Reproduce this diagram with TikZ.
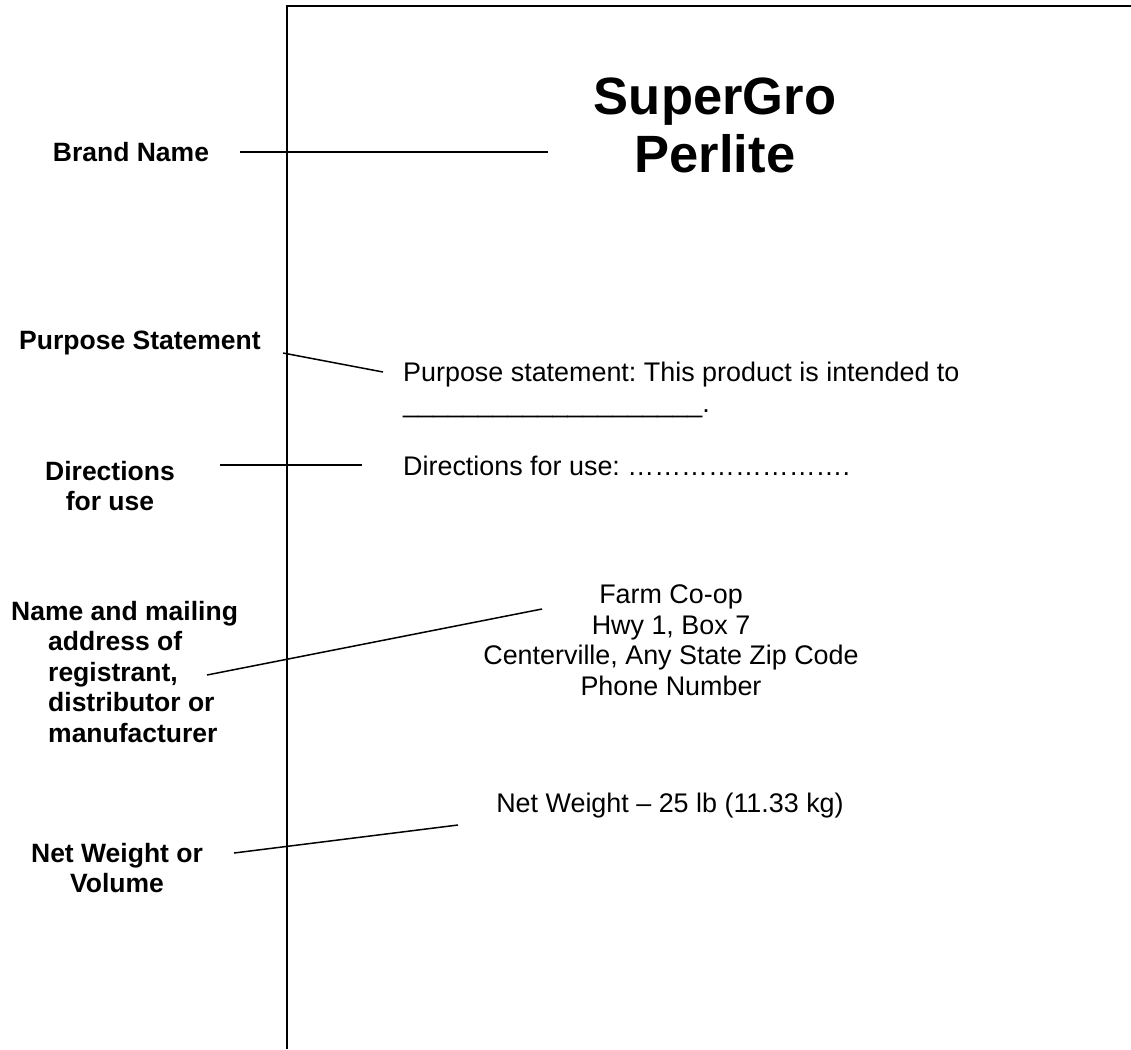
\documentclass[tikz,border=0pt]{standalone}
\usepackage{fontspec}
\setmainfont{Liberation Sans}
\frenchspacing
\begin{document}
\begin{tikzpicture}[x=1pt,y=-1pt,
  lbl/.style={font=\fontsize{26.5}{30.5}\selectfont\bfseries, align=center, inner sep=0},
  body/.style={font=\fontsize{26.9}{30.5}\selectfont, inner sep=0},
  brand/.style={font=\fontsize{52.5}{58}\selectfont\bfseries, align=center, inner sep=0},
  conn/.style={line width=1.5pt},
  frame/.style={line width=2pt}]
\useasboundingbox (0,0) rectangle (1131,1049);
% label outline
\coordinate (fbl) at (287,1049);
\coordinate (ftl) at (287,6);
\coordinate (ftr) at (1131,6);
\draw[frame] (fbl) -- (ftl) -- (ftr);
% brand
\node[brand] (title) at (715,125) {SuperGro\\Perlite};
\node[lbl] (brandlbl) at (131,152) {Brand Name};
\coordinate (b1) at (240,152);
\coordinate (b2) at (548,152);
\draw[conn] (b1) -- (b2);
% purpose
\node[lbl] (purplbl) at (140,343) {Purpose Statement};
\node[body, anchor=west, align=left] (purptxt) at (403,390) {Purpose statement: This product is intended to\\\_\_\_\_\_\_\_\_\_\_\_\_\_\_\_\_\_\_\_\_.};
\coordinate (p1) at (283,353);
\coordinate (p2) at (383,372);
\draw[conn] (p1) -- (p2);
% directions
\node[lbl] (dirlbl) at (110,486) {Directions\\for use};
\node[body, anchor=west] (dirtxt) at (403,466) {Directions for use: {…}{…}{…}{…}{…}{…}{…}{…}.};
\coordinate (d1) at (220,465);
\coordinate (d2) at (362,465);
\draw[conn] (d1) -- (d2);
% address
\node[lbl, align=left, anchor=west] (namelbl) at (11,672) {Name and mailing\\\hspace*{37pt}address of\\\hspace*{37pt}registrant,\\\hspace*{37pt}distributor or\\\hspace*{37pt}manufacturer};
\node[body, align=center] (addr) at (671,640) {Farm Co-op\\Hwy 1, Box 7\\Centerville, Any State Zip Code\\Phone Number};
\coordinate (n1) at (207,675);
\coordinate (n2) at (542,609);
\draw[conn] (n1) -- (n2);
% net weight
\node[lbl] (netlbl) at (117,868) {Net Weight or\\Volume};
\node[body] (nettxt) at (670,806) {Net Weight – 25 lb (11.33 kg)};
\coordinate (w1) at (234,853);
\coordinate (w2) at (458,825);
\draw[conn] (w1) -- (w2);
\end{tikzpicture}
\end{document}
